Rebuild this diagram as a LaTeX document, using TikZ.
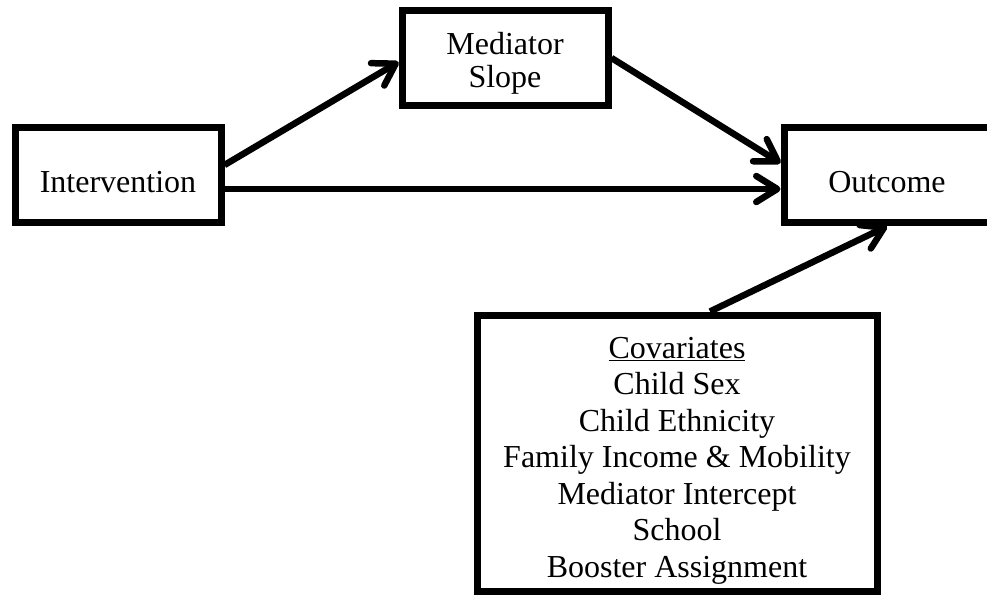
\documentclass[tikz,border=0pt]{standalone}
\usepackage{fontspec}
\setmainfont{Liberation Serif}
\usetikzlibrary{arrows.meta, calc}
\newcommand{\lift}[1]{\rule{0pt}{#1}}

\begin{document}
\begin{tikzpicture}[x=1pt, y=-1pt]
      \tikzset{box/.style={draw, line width=7pt, minimum width=206pt, minimum height=95.5pt, inner sep=0pt, align=center, font=\fontsize{32}{36.5}\selectfont}, every edge/.style={draw, line width=6.5pt, -{Straight Barb[length=21pt, width=26pt, round]}}}
      \useasboundingbox (0,0) rectangle (987,595);
      \node[box] (int) at (118,175) {\lift{36pt}Intervention};
      \node[box] (med) at (505,58) {\lift{32pt}Mediator\\[-3.5pt]Slope};
      \node[box] (out) at (887,175) {\lift{36pt}Outcome};
      \node[box, minimum width=400pt, minimum height=276pt] (cov) at (677,453) {\lift{36pt}\underline{Covariates}\\Child Sex\\Child Ethnicity\\Family Income \& Mobility\\Mediator Intercept\\School\\Booster Assignment};
      \draw ($(int.east)+(0,-10)$) edge ($(med.west)+(0,4)$);
      \draw ($(int.east)+(0,14)$) edge ($(out.west)+(0,14)$);
      \draw (med.east) edge ($(out.west)+(0,-12)$);
      \draw ($(cov.north)+(33,0)$) edge (out.south);
    \end{tikzpicture}
\end{document}
